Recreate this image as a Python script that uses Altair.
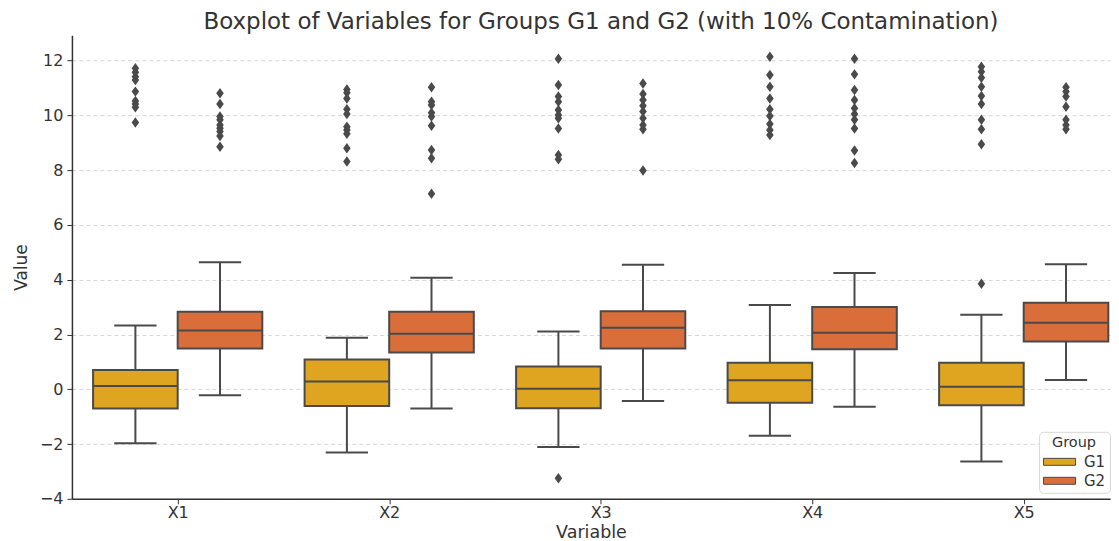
import altair as alt
import pandas as pd

variables = ["X1", "X2", "X3", "X4", "X5"]
groups = ["G1", "G2"]
group_colors = ["#DFA420", "#DA6E3A"]

# box statistics
g1_q1 = [-0.70, -0.61, -0.69, -0.49, -0.58]
g1_med = [0.12, 0.28, 0.02, 0.33, 0.09]
g1_q3 = [0.70, 1.09, 0.83, 0.97, 0.97]
g1_lo = [-1.97, -2.31, -2.11, -1.70, -2.64]
g1_hi = [2.33, 1.88, 2.11, 3.08, 2.72]

g2_q1 = [1.49, 1.34, 1.49, 1.46, 1.74]
g2_med = [2.15, 2.03, 2.25, 2.06, 2.43]
g2_q3 = [2.83, 2.83, 2.85, 3.00, 3.16]
g2_lo = [-0.22, -0.70, -0.43, -0.64, 0.34]
g2_hi = [4.64, 4.07, 4.55, 4.25, 4.57]

# outliers
out_g1_x1 = [11.72, 11.58, 11.41, 11.29, 10.87, 10.53, 10.42, 10.30, 9.74]
out_g1_x2 = [10.95, 10.83, 10.62, 10.23, 10.05, 9.59, 9.47, 9.33, 8.80, 8.32]
out_g1_x3 = [12.07, 11.11, 10.69, 10.50, 10.20, 10.02, 9.90, 9.52, 8.56, 8.40, -3.25]
out_g1_x4 = [12.14, 11.48, 11.05, 10.62, 10.23, 9.98, 9.69, 9.47, 9.29]
out_g1_x5 = [11.78, 11.60, 11.38, 11.05, 10.71, 10.42, 9.84, 9.50, 8.95, 3.85]

out_g2_x1 = [10.81, 10.42, 9.96, 9.84, 9.65, 9.53, 9.41, 9.25, 8.86]
out_g2_x2 = [11.03, 10.50, 10.38, 10.10, 9.96, 9.62, 8.74, 8.44, 7.14]
out_g2_x3 = [11.17, 10.78, 10.56, 10.35, 10.14, 9.90, 9.65, 9.50, 7.99]
out_g2_x4 = [12.07, 11.50, 10.93, 10.56, 10.26, 10.05, 9.84, 9.52, 8.72, 8.26]
out_g2_x5 = [11.03, 10.87, 10.69, 10.32, 9.84, 9.65, 9.50]

stats = {
    "G1": (g1_q1, g1_med, g1_q3, g1_lo, g1_hi),
    "G2": (g2_q1, g2_med, g2_q3, g2_lo, g2_hi),
}
outliers = {
    "G1": [out_g1_x1, out_g1_x2, out_g1_x3, out_g1_x4, out_g1_x5],
    "G2": [out_g2_x1, out_g2_x2, out_g2_x3, out_g2_x4, out_g2_x5],
}

box_rows = []
out_rows = []
for gi, g in enumerate(groups):
    q1, med, q3, lo, hi = stats[g]
    for i, v in enumerate(variables):
        box_rows.append(dict(variable=v, idx=i, group=g, side=-1 if gi == 0 else 1,
                             q1=q1[i], med=med[i], q3=q3[i], lo=lo[i], hi=hi[i]))
        for val in outliers[g][i]:
            out_rows.append(dict(variable=v, idx=i, group=g, side=-1 if gi == 0 else 1, value=val))

box_df = pd.DataFrame(box_rows)
out_df = pd.DataFrame(out_rows)

LINE = "#4a4a4a"
FONT = "DejaVu Sans"

xs = alt.Scale(domain=[-0.5, 4.408], nice=False, zero=False)
ys = alt.Scale(domain=[-4, 12.93], nice=False, zero=False)
label_expr = "[" + ",".join("'%s'" % v for v in variables) + "][datum.value]"
xaxis = alt.Axis(values=list(range(len(variables))), labelExpr=label_expr, grid=False,
                 tickSize=5, labelPadding=1, titlePadding=3, labelFontSize=16, titleFontSize=17.5)
yaxis = alt.Axis(values=list(range(-4, 13, 2)), grid=True, tickSize=5, labelPadding=4,
                 titlePadding=9, labelFontSize=16, titleFontSize=17)

def X(field):
    return alt.X(field, type="quantitative", scale=xs, axis=xaxis, title="Variable")

def Y(field):
    return alt.Y(field, type="quantitative", scale=ys, axis=yaxis, title="Value")

base = alt.Chart(box_df).transform_calculate(
    xc="datum.idx + datum.side * 0.2",
).transform_calculate(
    xl="datum.xc - 0.2", xr="datum.xc + 0.2", cl="datum.xc - 0.1", cr="datum.xc + 0.1"
)

whisk_hi = base.mark_rule(color=LINE, strokeWidth=2).encode(x=X("xc"), y=Y("q3"), y2="hi:Q")
whisk_lo = base.mark_rule(color=LINE, strokeWidth=2).encode(x=X("xc"), y=Y("lo"), y2="q1:Q")
cap_hi = base.mark_rule(color=LINE, strokeWidth=2).encode(x=X("cl"), x2="cr:Q", y=Y("hi"))
cap_lo = base.mark_rule(color=LINE, strokeWidth=2).encode(x=X("cl"), x2="cr:Q", y=Y("lo"))
boxes = base.mark_rect(stroke=LINE, strokeWidth=2, opacity=1).encode(
    x=X("xl"), x2="xr:Q", y=Y("q1"), y2="q3:Q",
    color=alt.Color("group:N", scale=alt.Scale(domain=groups, range=group_colors),
                    legend=alt.Legend(title="Group", orient="none", legendX=968, legendY=397,
                                      symbolType="M-1.6,-0.35H1.6V0.35H-1.6Z", symbolSize=400,
                                      symbolStrokeColor=LINE, symbolStrokeWidth=1,
                                      symbolOpacity=1, symbolOffset=6,
                                      labelFontSize=15, titleFontSize=14.5, titleFontWeight="normal",
                                      titleAnchor="middle", titleColor="#333", labelColor="#333",
                                      fillColor="white", strokeColor="#d8d8d8", cornerRadius=4,
                                      padding=4, rowPadding=0, titlePadding=1, labelOffset=14)),
)
medians = base.mark_rule(color=LINE, strokeWidth=2).encode(x=X("xl"), x2="xr:Q", y=Y("med"))

diamond = "M0,-1L0.72,0L0,1L-0.72,0Z"
points = alt.Chart(out_df).transform_calculate(
    xc="datum.idx + datum.side * 0.2"
).mark_point(shape=diamond, filled=True, size=110, color=LINE, opacity=1).encode(
    x=X("xc"), y=Y("value")
)

chart = alt.layer(whisk_hi, whisk_lo, cap_hi, cap_lo, boxes, medians, points).properties(
    width=1039, height=464,
    padding={"left": 4, "top": 3, "right": 0, "bottom": 0},
    title=alt.TitleParams("Boxplot of Variables for Groups G1 and G2 (with 10% Contamination)",
                          fontSize=23, font=FONT, fontWeight="normal", color="#333",
                          anchor="middle", dx=10, offset=1),
).configure(font=FONT).configure_view(stroke=None).configure_axis(
    domainColor="#333", domainWidth=1.5, tickColor="#333", labelColor="#333", titleColor="#333",
    titleFontWeight="normal", labelFont=FONT, titleFont=FONT,
    gridColor="#cccccc", gridDash=[4, 3], gridWidth=1, gridOpacity=0.8,
).configure_legend(labelFont=FONT, titleFont=FONT)

chart.save("out.html", embed_options={"renderer": "svg", "actions": False})
